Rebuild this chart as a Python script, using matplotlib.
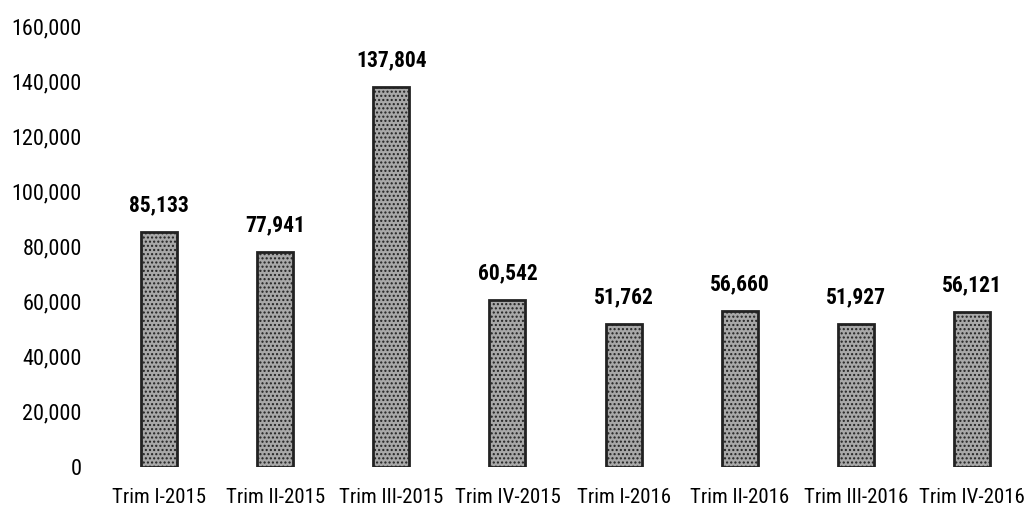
import numpy as np
import matplotlib
matplotlib.use("Agg")
import matplotlib.pyplot as plt
from matplotlib.ticker import FuncFormatter

# trimestres y valores
trims = ['Trim I-2015', 'Trim II-2015', 'Trim III-2015', 'Trim IV-2015',
         'Trim I-2016', 'Trim II-2016', 'Trim III-2016', 'Trim IV-2016']
valores = [85133, 77941, 137804, 60542, 51762, 56660, 51927, 56121]
yticks = [0, 20000, 40000, 60000, 80000, 100000, 120000, 140000, 160000]

plt.rcParams['font.family'] = ['Roboto Condensed', 'Liberation Sans', 'DejaVu Sans']
plt.rcParams['hatch.color'] = '#666666'

fig = plt.figure(figsize=(10.32, 5.09), dpi=100)
ax = fig.add_axes([0.098, 0.0825, 0.90, 0.866])

x = np.arange(len(trims))
ax.bar(x, valores, width=0.31, color='#a8a8a8', edgecolor='#222222',
       linewidth=2.0, hatch='....')

for xi, v in zip(x, valores):
    ax.text(xi, v + 5800, '{:,}'.format(v), ha='center', va='bottom',
            fontsize=15.5, fontweight='bold')

ax.set_xlim(-0.5, len(trims) - 0.5)
ax.set_ylim(0, 160000)
ax.set_yticks(yticks)
ax.yaxis.set_major_formatter(FuncFormatter(lambda v, p: '{:,}'.format(int(v))))
ax.set_xticks(x)
ax.set_xticklabels(trims)
ax.tick_params(axis='both', length=0)
ax.tick_params(axis='x', pad=15, labelsize=15)
ax.tick_params(axis='y', pad=14, labelsize=16)
for s in ax.spines.values():
    s.set_visible(False)

fig.savefig('out.png', dpi=100, facecolor='white')
